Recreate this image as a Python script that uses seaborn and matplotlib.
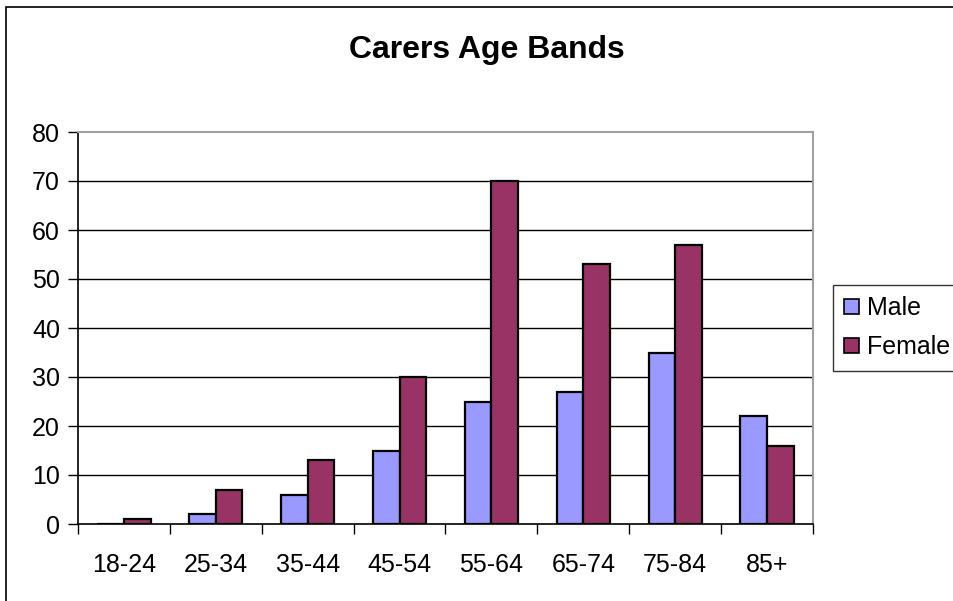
import matplotlib
matplotlib.use("Agg")
import matplotlib.pyplot as plt
import pandas as pd
import seaborn as sns
from matplotlib.patches import Rectangle

age_bands = ["18-24", "25-34", "35-44", "45-54", "55-64", "65-74", "75-84", "85+"]
male = [0, 2, 6, 15, 25, 27, 35, 22]
female = [1, 7, 13, 30, 70, 53, 57, 16]
series = ["Male", "Female"]
colors = ["#9999FF", "#993366"]

df = pd.DataFrame(
    [{"band": b, "sex": "Male", "count": v} for b, v in zip(age_bands, male)]
    + [{"band": b, "sex": "Female", "count": v} for b, v in zip(age_bands, female)]
)

sns.set_style("white")
plt.rcParams["font.family"] = ["Liberation Sans", "DejaVu Sans"]
plt.rcParams["text.color"] = "black"
plt.rcParams["xtick.color"] = "black"
plt.rcParams["ytick.color"] = "black"

fig = plt.figure(figsize=(9.54, 6.01), dpi=100)
ax = fig.add_axes([78 / 954, 77 / 601, 735 / 954, 392 / 601])

sns.barplot(
    data=df, x="band", y="count", hue="sex", order=age_bands, hue_order=series,
    palette=colors, width=0.58, edgecolor="black", linewidth=1.6, saturation=1,
    ax=ax, legend=True,
)

ax.set_ylim(0, 80)
ax.set_xlim(-0.5, len(age_bands) - 0.5)
ax.set_yticks(range(0, 81, 10))
ax.set_xlabel("")
ax.set_ylabel("")
for y in range(10, 80, 10):
    ax.axhline(y, color="black", lw=1, zorder=0)
ax.set_axisbelow(True)

ax.spines["left"].set_color("black")
ax.spines["bottom"].set_color("black")
ax.spines["left"].set_linewidth(1.2)
ax.spines["bottom"].set_linewidth(1.2)
ax.spines["top"].set_color("#a0a0a0")
ax.spines["right"].set_color("#a0a0a0")
ax.spines["top"].set_linewidth(1.5)
ax.spines["right"].set_linewidth(1.5)

ax.tick_params(axis="y", left=True, length=7, width=1, color="black", labelsize=18, pad=6)
ax.set_xticks([i - 0.5 for i in range(len(age_bands) + 1)], minor=False)
ax.set_xticklabels([])
ax.set_xticks(range(len(age_bands)), minor=True)
ax.set_xticklabels(age_bands, minor=True)
ax.tick_params(axis="x", which="major", bottom=True, length=7, width=1, color="black")
ax.tick_params(axis="x", which="minor", bottom=False, labelsize=18, pad=19)

fig.text(487 / 954, 1 - 50 / 601, "Carers Age Bands", fontsize=23, fontweight="bold",
         ha="center", va="center")

leg = ax.legend(
    loc="upper left", bbox_to_anchor=(833 / 954, 316 / 601), bbox_transform=fig.transFigure,
    frameon=True, fancybox=False, fontsize=18, handlelength=0.6, handleheight=0.6,
    handletextpad=0.3, borderpad=0.45, labelspacing=0.6, borderaxespad=0,
)
leg.get_frame().set_edgecolor("black")
leg.get_frame().set_linewidth(1)
for h in leg.legend_handles:
    h.set_edgecolor("black")
    h.set_linewidth(1.2)

fig.patches.append(Rectangle((6 / 954, -0.1), 1.2, 594 / 601 + 0.1, transform=fig.transFigure,
                             fill=False, edgecolor="black", lw=1.2))

fig.savefig("out.png", dpi=100)
